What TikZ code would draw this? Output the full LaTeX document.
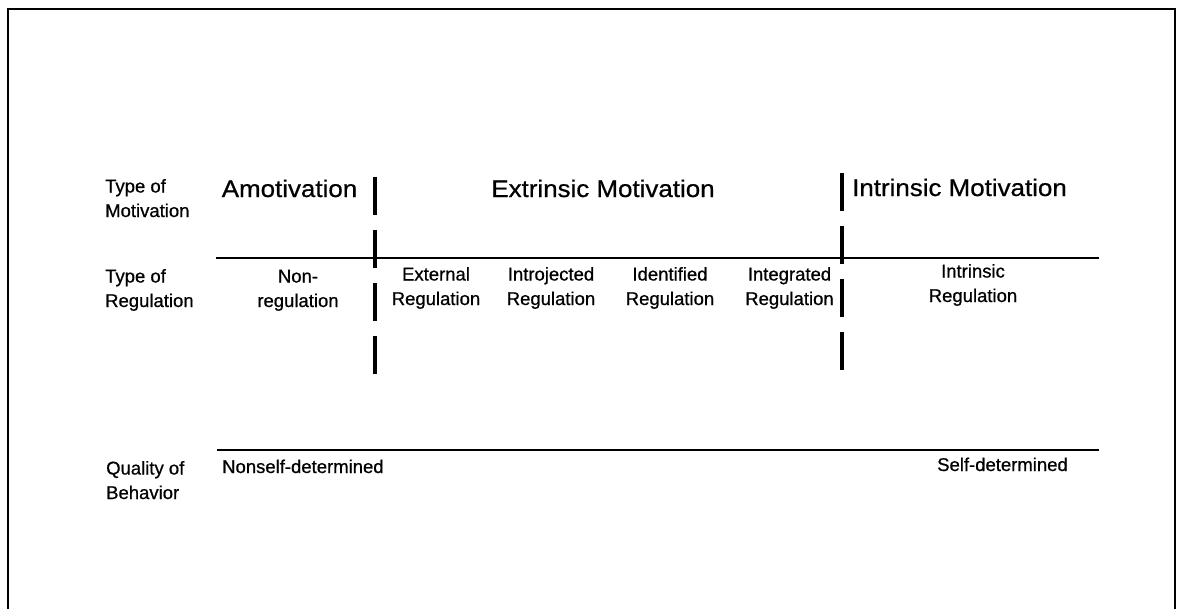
\documentclass[tikz,border=0pt]{standalone}
\usepackage{fontspec}
\setmainfont{Liberation Sans}[FakeBold=0.7]
\newfontfamily\bigfont[FakeStretch=1.08,FakeBold=0.7]{Liberation Sans}
\begin{document}
\begin{tikzpicture}[x=1pt,y=-1pt,
  small/.style={font=\fontsize{18.5}{24.5}\selectfont, inner sep=0pt, anchor=base, align=center},
  lab/.style={small, anchor=base west, align=left},
  big/.style={font=\bigfont\fontsize{24}{30}\selectfont, inner sep=0pt, anchor=base},
  rule/.style={line width=1.8pt},
  divider/.style={line width=4.5pt, dash pattern=on 38pt off 15pt},
  frame/.style={line width=2.2pt}]
\useasboundingbox (0,0) rectangle (1181,608);

% frame
\coordinate (fbl) at (8,615);
\coordinate (ftl) at (8,9);
\coordinate (ftr) at (1175,9);
\coordinate (fbr) at (1175,615);
\draw[frame] (fbl) -- (ftl) -- (ftr) -- (fbr);

% horizontal rules
\coordinate (r1s) at (216,258);
\coordinate (r1e) at (1099,258);
\coordinate (r2s) at (217,450);
\coordinate (r2e) at (1099,450);
\draw[rule] (r1s) -- (r1e);
\draw[rule] (r2s) -- (r2e);

% dashed dividers
\coordinate (d1t) at (375,177);
\coordinate (d1b) at (375,374);
\coordinate (d2t) at (842,173);
\coordinate (d2b) at (842,372);
\draw[divider] (d1t) -- (d1b);
\draw[divider] (d2t) -- (d2b);

% row labels (anchor = baseline of the last line)
\node[lab] (tm) at (105,217) {Type of\\Motivation};
\node[lab] (tr) at (105,307) {Type of\\Regulation};
\node[lab] (qb) at (106,499) {Quality of\\Behavior};

% motivation types
\node[big] (amo) at (289.5,197) {Amotivation};
\node[big] (ext) at (603,197) {Extrinsic Motivation};
\node[big] (int) at (959.5,196) {Intrinsic Motivation};

% regulation types
\node[small] (nonreg) at (298,307) {Non-\\regulation};
\node[small] (extreg) at (436,305) {External\\Regulation};
\node[small] (introreg) at (551,305) {Introjected\\Regulation};
\node[small] (idreg) at (670,305) {Identified\\Regulation};
\node[small] (integreg) at (789.5,305) {Integrated\\Regulation};
\node[small] (intreg) at (973,302) {Intrinsic\\Regulation};

% quality
\node[small, anchor=base west] (nsd) at (222,473) {Nonself-determined};
\node[small, anchor=base east] (sd) at (1068,471) {Self-determined};
\end{tikzpicture}
\end{document}
